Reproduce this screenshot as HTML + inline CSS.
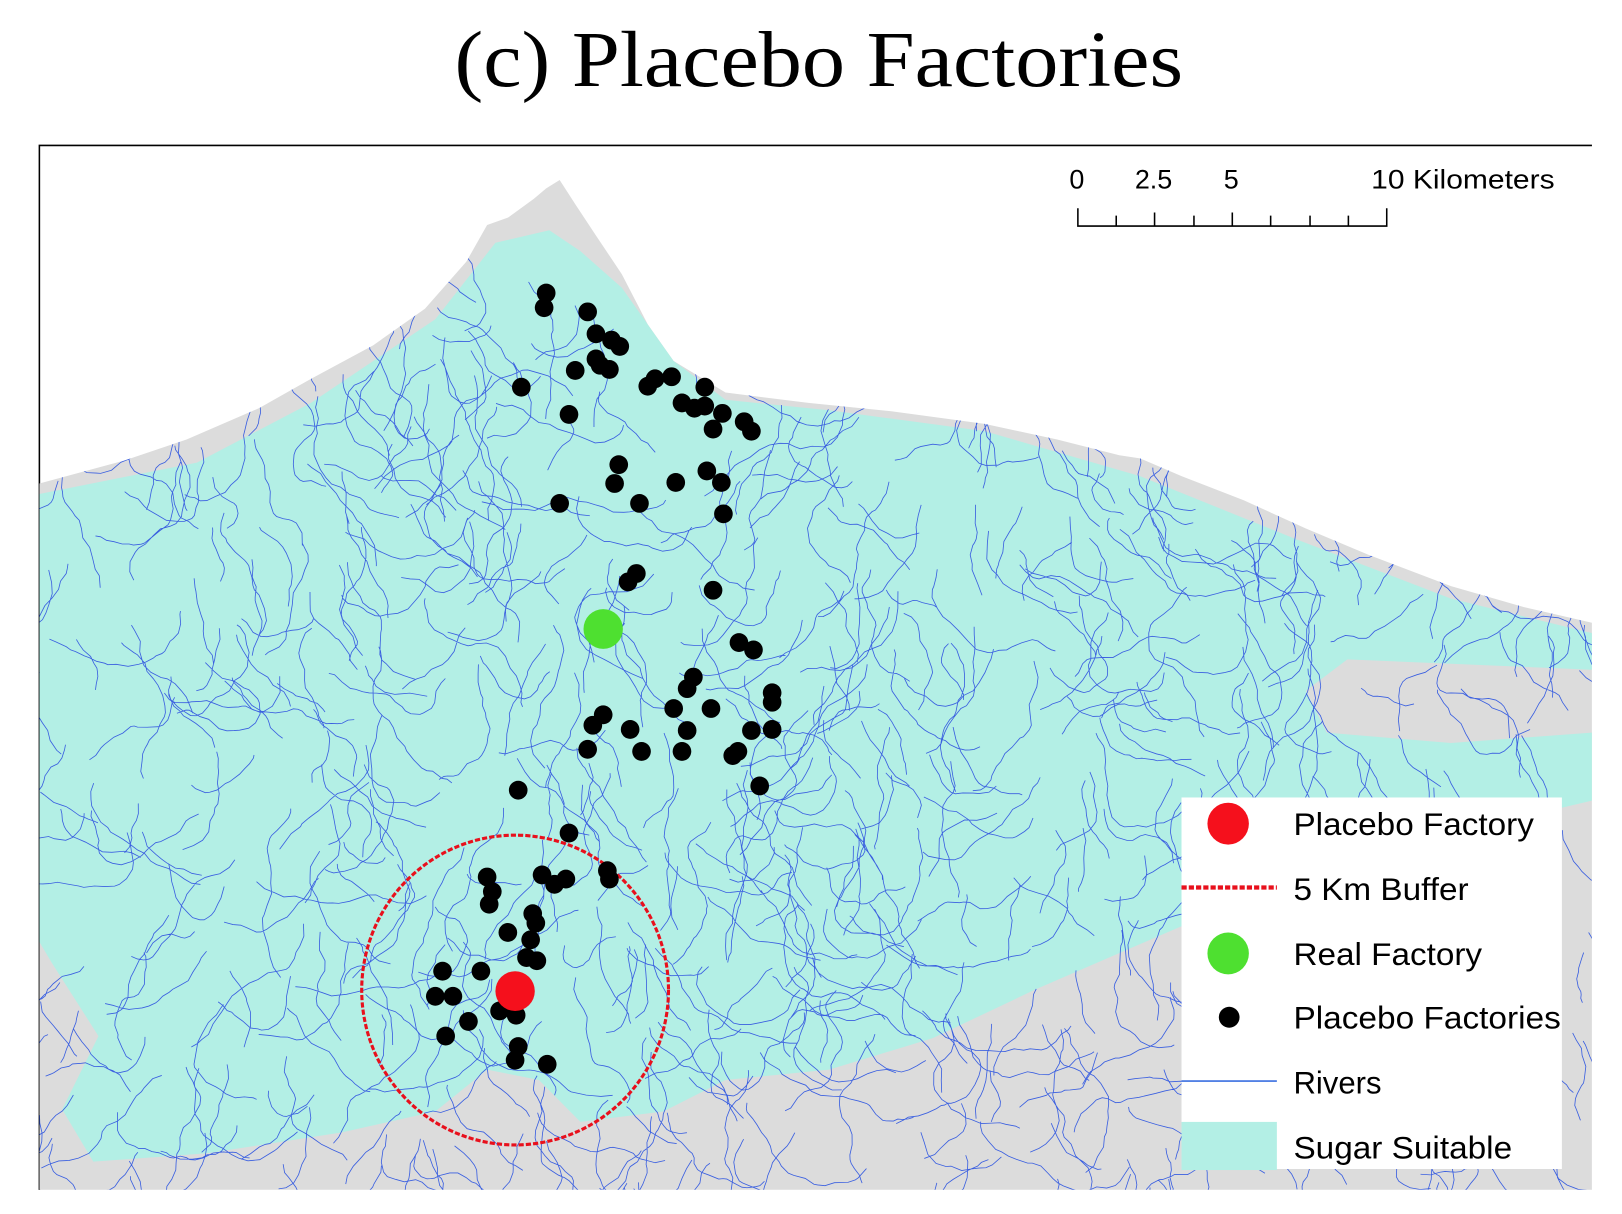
<!DOCTYPE html>
<html><head><meta charset="utf-8"><style>
html,body{margin:0;padding:0;background:#fff;width:1622px;height:1214px;overflow:hidden;position:relative}
svg{display:block;position:absolute;left:0;top:0}
</style></head><body>
<svg id="s" width="1622" height="1214" viewBox="0 0 1565 1160" preserveAspectRatio="none" xmlns="http://www.w3.org/2000/svg">
<defs><clipPath id="land"><path id="lp" d="M38,462 L120,440 L180,420 L250,390 L300,362 L360,330 L410,295 L450,250 L470,215 L490,208 L515,190 L527,180 L540,172 L555,195 L575,225 L600,262 L625,310 L650,345 L700,375 L780,385 L860,393 L950,405 L1020,420 L1080,435 L1100,438 L1140,455 L1200,478 L1260,505 L1320,530 L1400,560 L1470,580 L1536,595 L1536,1137 L38,1137 Z"/></clipPath></defs>
<text x="790" y="82" text-anchor="middle" font-family="Liberation Serif, serif" font-size="76" textLength="703" lengthAdjust="spacingAndGlyphs">(c) Placebo Factories</text>
<path d="M38,1137 L38,139 L1536,139" fill="none" stroke="#000" stroke-width="1.5"/>
<g clip-path="url(#land)">
<rect x="38" y="139" width="1500" height="1000" fill="#dcdcdc"/>
<path fill="#b3efe5" d="M38,472 L190,442 L300,385 L420,305 L478,232 L530,220 L560,240 L600,275 L650,345 L700,382 L800,392 L950,412 L1100,455 L1250,515 L1400,572 L1536,605 L1536,640 L1300,630 L1260,660 L1280,700 L1400,710 L1536,700 L1536,765 L1420,792 L1300,825 L1140,885 L1000,945 L900,992 L800,1022 L700,1032 L640,1062 L560,1072 L520,1032 L470,1022 L420,1062 L330,1082 L200,1102 L90,1110 L60,1060 L95,990 L50,920 L38,900 Z"/>
<g id="rv" fill="none" stroke="#3a5fe0" stroke-width="0.8"></g>
</g>
<circle cx="497" cy="946" r="148" fill="none" stroke="#e8101c" stroke-width="3" stroke-dasharray="5,2"/>
<g id="dots" fill="#000"></g>
<circle cx="582" cy="601" r="19" fill="#4ee030"/>
<circle cx="497" cy="947" r="19" fill="#f5101c"/>
<g font-family="Liberation Sans, sans-serif" font-size="26" fill="#000">
<text x="1039" y="180" text-anchor="middle">0</text>
<text x="1113" y="180" text-anchor="middle">2.5</text>
<text x="1188" y="180" text-anchor="middle">5</text>
<text x="1323" y="180" textLength="177" lengthAdjust="spacingAndGlyphs">10 Kilometers</text>
</g>
<path d="M1040,199 V216 H1338 V199 M1077,206 V216 M1114,203 V216 M1152,206 V216 M1189,203 V216 M1226,206 V216 M1264,206 V216 M1301,206 V216" fill="none" stroke="#000" stroke-width="1.5"/>
<rect x="1140" y="762" width="367" height="355" fill="#fff"/>
<circle cx="1185" cy="787" r="20" fill="#f5101c"/>
<line x1="1140" y1="848" x2="1232" y2="848" stroke="#e8101c" stroke-width="4" stroke-dasharray="5,2"/>
<circle cx="1185" cy="911" r="20" fill="#4ee030"/>
<circle cx="1186" cy="972" r="10" fill="#000"/>
<line x1="1140" y1="1033" x2="1232" y2="1033" stroke="#3a6fe0" stroke-width="1.5"/>
<rect x="1140" y="1072" width="92" height="46" fill="#b3efe5"/>
<g font-family="Liberation Sans, sans-serif" font-size="30" fill="#000">
<text x="1248" y="798" textLength="232" lengthAdjust="spacingAndGlyphs">Placebo Factory</text>
<text x="1248" y="860" textLength="169" lengthAdjust="spacingAndGlyphs">5 Km Buffer</text>
<text x="1248" y="922" textLength="182" lengthAdjust="spacingAndGlyphs">Real Factory</text>
<text x="1248" y="983" textLength="258" lengthAdjust="spacingAndGlyphs">Placebo Factories</text>
<text x="1248" y="1045">Rivers</text>
<text x="1248" y="1107" textLength="211" lengthAdjust="spacingAndGlyphs">Sugar Suitable</text>
</g>
</svg>
<script>
var pts=[[527,280],[525,294],[567,298],[575,319],[590,325],[598,331],[575,343],[588,353],[579,349],[555,354],[503,370],[625,369],[632,362],[648,360],[680,370],[658,385],[670,390],[680,388],[697,395],[688,410],[718,403],[725,412],[549,396],[597,444],[593,462],[652,461],[682,450],[696,461],[617,481],[540,481],[698,491],[606,556],[614,548],[688,564],[713,614],[727,621],[669,647],[663,658],[745,662],[745,671],[650,677],[686,677],[582,683],[572,693],[608,697],[663,698],[725,698],[745,697],[567,716],[619,718],[658,718],[707,722],[712,718],[733,751],[500,755],[549,796],[470,838],[475,852],[472,864],[523,836],[535,845],[546,840],[586,832],[588,840],[514,873],[517,882],[490,891],[512,898],[508,915],[518,918],[464,928],[427,928],[420,952],[437,952],[452,976],[430,990],[482,966],[498,970],[500,1000],[497,1013],[528,1017]];
var ns="http://www.w3.org/2000/svg",g=document.getElementById('dots');
pts.forEach(function(p){var c=document.createElementNS(ns,'circle');c.setAttribute('cx',p[0]);c.setAttribute('cy',p[1]);c.setAttribute('r',9);g.appendChild(c);});
var seed=7;function r(){seed=(seed*16807)%2147483647;return seed/2147483647;}
var rv=document.getElementById('rv'),d='';
for(var i=0;i<700;i++){var x=38+r()*1500,y=200+r()*940,a=Math.PI/2+(r()-0.5)*1.4;var n=8+Math.floor(r()*16);d+='M'+x.toFixed(1)+','+y.toFixed(1);
for(var k=0;k<n;k++){a+=(r()-0.5)*1.1;var L=3+r()*9;x+=Math.cos(a)*L;y+=Math.sin(a)*L;d+='L'+x.toFixed(1)+','+y.toFixed(1);}}
var p=document.createElementNS(ns,'path');p.setAttribute('d',d);rv.appendChild(p);
</script>
</body></html>
